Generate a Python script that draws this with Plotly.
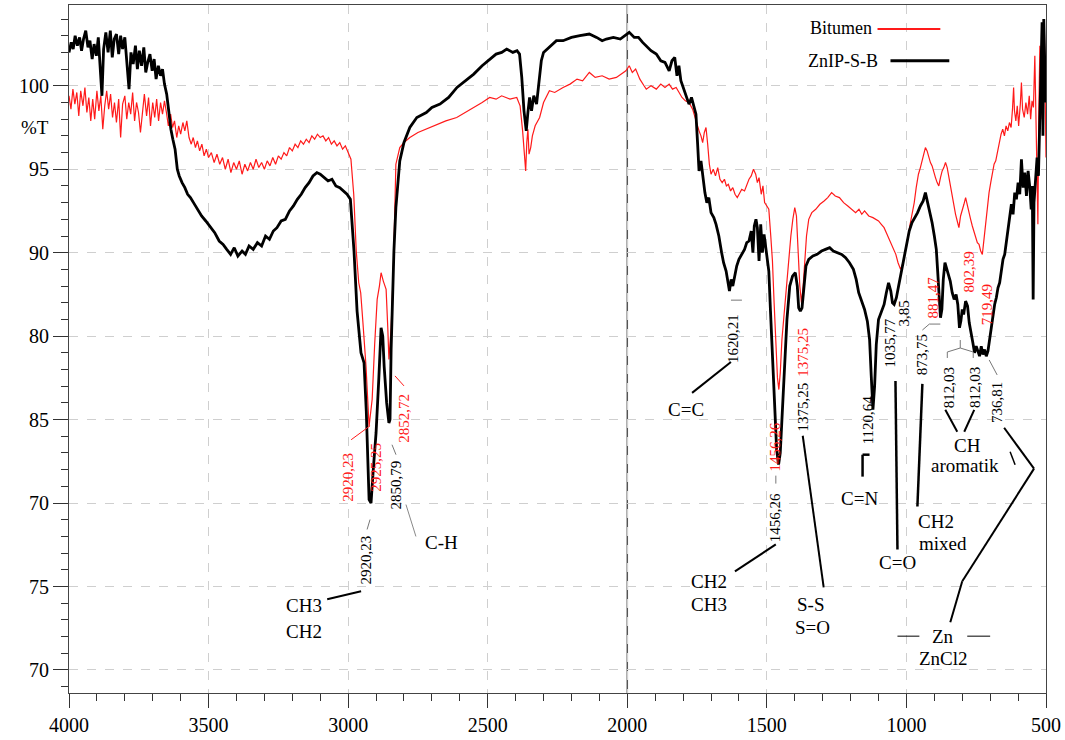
import plotly.graph_objects as go

# ---------------- data ----------------
black_wn = [4000,3992,3985,3978,3970,3962,3955,3948,3940,3932,3925,3917,3910,3902,3895,3888,3882,3876,3868,3860,
            3852,3845,3838,3830,3822,3815,3808,3800,3792,3785,3778,3770,3762,3755,3748,3740,3732,3725,3718,3710,
            3702,3695,3688,3680,3672,3665,3658,3650,3642,3635,3628,3620,3612,3605,3595,3585,3575,3565,3554,3540,
            3525,3510,3493,3478,3462,3448,3435,3421,3408,3395,3380,3368,3355,3340,3325,3310,3296,3282,3268,3255,
            3240,3225,3210,3196,3182,3168,3154,3140,3126,3112,3100,3086,3072,3058,3044,3030,3016,3004,2992,2985,
            2979,2968,2954,2943,2935,2925,2918,2910,2900,2890,2882,2876,2871,2862,2854,2850,2846,2836,2829,2815,
            2800,2779,2754,2720,2700,2671,2640,2610,2580,2550,2520,2493,2470,2450,2432,2410,2395,2386,2378,2370,
            2362,2356,2350,2343,2335,2325,2316,2308,2300,2280,2254,2230,2200,2170,2136,2110,2090,2075,2050,2025,
            2010,1993,1975,1960,1945,1932,1915,1896,1880,1865,1850,1840,1830,1822,1815,1808,1800,1790,1779,1770,
            1762,1754,1748,1743,1736,1730,1722,1715,1708,1700,1690,1682,1672,1662,1655,1646,1640,1634,1628,1622,
            1615,1608,1600,1590,1580,1572,1564,1556,1550,1545,1539,1534,1528,1522,1516,1510,1504,1498,1493,1487,
            1480,1472,1465,1458,1452,1446,1438,1428,1418,1408,1398,1391,1386,1380,1374,1368,1360,1350,1335,1320,
            1304,1290,1275,1262,1248,1232,1218,1204,1190,1180,1171,1160,1150,1140,1132,1126,1120,1114,1108,1100,
            1090,1080,1072,1064,1056,1050,1044,1036,1028,1018,1008,998,990,980,970,960,950,940,932,924,
            916,908,900,893,887,882,878,873,868,862,856,850,843,836,829,822,816,810,805,800,
            795,788,781,775,768,762,756,750,744,738,732,726,720,714,708,702,696,690,684,678,
            672,666,660,654,648,642,636,630,624,618,612,606,600,594,588,582,576,570,564,558,
            553,549,546,543,538,532,527,522,518,514,511,508,504,500]
black_t = [102.0,102.6,102.2,103.0,102.4,102.9,102.1,102.8,103.3,102.3,102.7,101.6,102.5,101.8,102.9,101.3,99.4,102.2,103.2,102.0,
           103.3,101.7,102.8,103.1,101.9,103.0,102.2,102.9,101.0,99.8,102.0,101.3,102.4,101.0,102.1,101.2,102.3,100.8,101.4,101.9,
           100.9,101.6,100.4,101.2,100.6,101.0,100.1,99.5,98.4,97.4,96.8,96.2,95.0,94.6,94.2,93.9,93.5,93.3,93.0,92.6,
           92.2,91.9,91.5,91.2,90.7,90.5,90.2,89.9,90.3,89.8,90.1,89.9,90.4,90.2,90.6,90.4,91.0,90.8,91.3,91.5,
           91.9,92.0,92.5,92.8,93.2,93.5,93.9,94.2,94.6,94.8,94.7,94.5,94.3,94.4,94.0,93.9,93.7,93.5,93.2,91.5,
           90.1,86.5,84.0,83.4,80.5,75.2,75.0,77.0,79.2,82.5,85.5,85.0,83.2,81.0,79.8,80.0,84.2,90.1,92.7,95.5,
           96.6,97.5,98.1,98.4,98.7,98.9,99.3,99.9,100.3,100.7,101.2,101.6,101.9,102.0,102.2,102.0,102.1,101.9,100.5,98.5,
           97.3,98.4,99.3,98.5,99.4,98.9,100.3,101.5,102.0,102.3,102.7,102.7,102.9,103.0,103.1,102.9,102.7,102.8,102.9,102.8,
           103.0,103.2,102.9,102.9,102.6,102.4,102.1,101.9,101.5,101.4,100.9,101.5,101.7,100.6,101.2,100.3,99.9,99.5,98.9,99.3,
           98.8,98.3,96.5,94.9,95.5,94.6,93.6,93.0,93.3,92.4,92.1,91.7,91.0,90.0,89.4,88.9,88.3,87.7,88.4,88.0,
           88.6,89.2,89.6,89.9,90.2,90.6,90.7,91.3,90.0,91.6,92.0,91.5,89.5,91.7,90.0,91.1,90.4,89.8,88.9,86.5,
           84.0,80.5,78.2,77.3,78.0,80.0,83.0,86.0,88.0,88.6,88.8,88.0,86.7,86.5,86.7,87.8,89.2,89.6,89.8,89.9,
           90.1,90.2,90.3,90.1,90.0,89.9,89.7,89.4,89.0,88.4,87.6,87.0,86.6,85.9,84.8,82.6,80.6,82.0,84.5,86.0,
           86.4,86.9,87.6,88.2,87.7,87.0,86.9,87.3,88.0,88.9,89.8,90.8,91.3,91.8,92.1,92.4,92.8,93.1,93.6,93.0,
           92.6,91.8,91.0,90.2,88.6,86.8,86.1,86.6,88.4,89.4,89.0,88.6,88.3,87.6,87.2,87.5,86.9,85.5,85.9,86.6,
           86.3,87.1,86.8,85.8,85.0,84.6,84.0,84.4,84.1,83.8,84.4,83.9,84.2,83.8,84.1,84.8,85.6,86.0,86.9,87.3,
           87.9,88.2,88.8,89.6,89.9,90.6,91.2,91.9,92.9,92.3,93.6,93.2,94.2,93.5,95.6,93.9,94.8,93.4,94.9,93.9,
           92.6,94.0,87.2,93.0,94.5,95.7,94.6,98.0,102.5,103.8,97.0,104.0,101.0,99.0]

red_wn = [4000,3993,3986,3979,3972,3965,3958,3950,3943,3936,3929,3922,3915,3908,3900,3893,3886,3879,3872,3865,
          3858,3851,3844,3837,3830,3822,3815,3808,3800,3793,3786,3779,3772,3765,3758,3751,3744,3737,3730,3722,
          3715,3708,3700,3693,3686,3679,3672,3665,3658,3651,3644,3636,3629,3622,3614,3607,3600,3592,3585,3578,
          3570,3562,3555,3547,3540,3532,3524,3516,3508,3500,3490,3480,3470,3460,3450,3440,3430,3420,3410,3400,
          3390,3380,3370,3360,3350,3340,3330,3320,3310,3300,3290,3280,3270,3260,3250,3240,3230,3220,3210,3200,
          3190,3180,3170,3160,3150,3140,3130,3120,3110,3100,3090,3080,3070,3060,3050,3040,3030,3020,3010,3000,
          2990,2980,2971,2962,2955,2947,2936,2925,2914,2905,2896,2888,2882,2874,2864,2858,2854,2846,2838,2829,
          2815,2800,2779,2750,2707,2680,2650,2611,2580,2550,2520,2493,2470,2450,2420,2396,2384,2375,2368,2364,
          2360,2356,2352,2346,2340,2330,2314,2300,2279,2260,2230,2205,2180,2160,2136,2115,2090,2065,2039,2020,
          2005,1993,1982,1970,1955,1940,1932,1915,1896,1880,1865,1850,1838,1825,1814,1804,1792,1779,1766,1754,
          1748,1743,1736,1730,1724,1718,1712,1706,1700,1692,1684,1676,1668,1660,1652,1645,1638,1630,1622,1614,
          1606,1598,1590,1580,1572,1564,1556,1548,1540,1534,1528,1520,1514,1508,1500,1493,1486,1480,1474,1468,
          1462,1457,1452,1446,1440,1434,1428,1421,1414,1407,1400,1394,1388,1382,1376,1370,1364,1358,1350,1339,
          1325,1310,1295,1282,1268,1255,1240,1225,1210,1196,1182,1170,1160,1150,1135,1120,1110,1100,1090,1080,
          1072,1064,1055,1046,1038,1030,1021,1012,1004,996,988,980,972,965,957,950,944,938,932,926,
          920,914,908,902,896,890,884,878,872,866,860,854,848,842,836,830,824,818,812,806,
          800,794,788,782,776,770,764,758,752,746,740,734,728,722,716,710,704,698,692,686,
          680,674,668,661,655,649,643,637,631,625,620,616,613,608,603,598,592,588,584,578,
          572,566,560,555,550,545,540,536,532,529,526,522,518,514,510,506,503,500]
red_t = [99.4,98.6,99.8,98.9,99.6,98.2,99.7,98.8,99.9,98.4,99.3,97.9,99.2,98.0,99.7,98.5,99.4,97.4,98.8,99.7,
         98.6,99.5,98.1,99.0,97.8,99.2,96.9,98.9,99.4,98.0,99.0,98.3,99.6,97.9,99.0,98.4,97.2,98.6,99.5,98.2,
         99.3,97.6,99.0,98.1,99.2,97.9,99.0,98.3,99.1,98.4,97.6,98.3,97.5,97.9,96.9,97.6,97.1,97.8,97.3,97.9,
         96.9,96.5,96.9,96.3,96.7,96.1,96.5,95.8,96.2,95.7,96.0,95.4,95.9,95.3,95.7,95.0,95.6,94.8,95.4,95.0,
         95.5,94.7,95.3,94.9,95.4,95.0,95.6,95.1,95.4,95.0,95.5,95.2,95.7,95.3,95.8,95.6,96.0,95.8,96.3,96.1,
         96.5,96.3,96.7,96.5,96.8,96.6,97.0,96.8,97.1,96.9,97.0,96.7,96.9,96.5,96.7,96.4,96.6,96.2,96.4,96.0,
         95.6,93.5,90.1,88.2,87.6,85.8,83.2,79.6,81.2,84.5,87.2,88.0,88.8,88.3,87.8,85.5,83.6,85.5,89.0,95.3,
         96.3,96.6,96.9,97.2,97.5,97.7,97.9,98.1,98.4,98.7,99.0,99.3,99.2,99.4,99.2,99.3,98.8,97.3,96.0,94.9,
         96.6,97.4,95.9,96.3,97.0,97.6,98.1,99.0,99.7,99.6,99.9,100.1,100.4,100.3,100.8,100.5,100.6,100.4,100.5,100.7,
         100.9,101.2,100.8,101.0,100.4,100.0,99.8,100.0,99.8,100.1,99.9,100.1,99.8,99.9,99.6,99.3,99.1,99.0,98.6,97.9,
         97.5,97.3,97.0,96.6,97.2,97.5,96.5,95.3,94.7,95.0,94.6,95.1,94.4,94.2,94.4,94.0,94.1,93.7,93.9,93.5,
         93.3,93.6,93.8,93.7,94.1,94.4,94.6,95.0,94.7,94.2,94.5,93.5,94.0,93.0,92.8,92.6,91.0,89.5,87.0,85.1,
         82.5,81.8,82.8,84.8,86.0,87.5,88.5,89.7,91.0,92.0,92.7,92.2,90.0,88.0,87.0,88.0,89.5,91.0,92.0,92.4,
         92.6,92.9,93.1,93.3,93.6,93.4,93.3,93.0,92.8,92.6,92.4,92.6,92.3,92.5,92.2,92.1,92.0,91.9,91.7,91.5,
         91.2,90.9,90.6,90.2,89.9,89.4,89.0,89.4,90.0,90.8,91.6,92.2,93.0,93.9,94.7,95.1,95.5,95.9,96.3,96.1,
         95.7,95.4,95.2,94.8,94.5,94.2,94.0,94.5,94.9,95.1,95.4,95.1,94.5,93.9,93.3,92.7,92.3,91.9,91.5,92.2,
         92.5,92.9,93.3,92.8,92.3,92.0,91.6,91.3,91.0,90.6,90.5,90.1,89.9,90.8,91.8,92.9,93.6,94.2,94.8,95.3,
         95.5,96.0,96.6,97.1,97.4,97.0,97.6,97.3,97.8,97.5,98.6,99.9,98.5,97.9,98.8,97.6,98.9,100.2,98.6,98.1,
         99.0,98.3,99.4,98.0,99.1,98.7,101.8,98.5,93.2,91.7,98.0,102.4,99.5,98.0,101.0,103.5,99.5,95.7]

series_names = ["Bitumen", "ZnIP-S-B"]
y_tick_values = [100, 95, 90, 85, 80, 75, 70, 65]
y_tick_labels = ["100", "95", "90", "80", "85", "70", "75", "70"]
x_tick_values = [4000, 3500, 3000, 2500, 2000, 1500, 1000, 500]

RED = "#ff1a1a"
BLACK = "#000000"
SERIF = "Liberation Serif, Times New Roman, serif"

# plot frame in pixels (for placing labels / leader lines)
L, R, T, B = 69, 1049, 4, 694
def px(x):
    return (x - L) / (R - L)
def py(y):
    return (B - y) / (B - T)

fig = go.Figure()
fig.add_trace(go.Scatter(x=red_wn, y=red_t, mode="lines", name=series_names[0],
                         line=dict(color=RED, width=1.2), showlegend=False))
fig.add_trace(go.Scatter(x=black_wn, y=black_t, mode="lines", name=series_names[1],
                         line=dict(color=BLACK, width=2.8), showlegend=False))

annotations = []
def text(t, x, y, color=BLACK, size=19, angle=0):
    annotations.append(dict(text=t, x=px(x), y=py(y), xref="paper", yref="paper",
                            showarrow=False, textangle=angle,
                            font=dict(family=SERIF, size=size, color=color),
                            xanchor="center", yanchor="middle"))

# peak numbers (rotated)
for t, x, y in [("2920,23", 348, 478), ("2925,25", 377, 468), ("2852,72", 405, 418),
                ("1456,26", 777, 447), ("1375,25", 805, 352), ("881,47", 936, 297),
                ("802,39", 972, 272), ("719,49", 990, 305)]:
    text(t, x, y, RED, 15, -90)
for t, x, y in [("2920,23", 367, 561), ("2850,79", 397, 485), ("1620,21", 735, 338),
                ("1456,26", 777, 518), ("1375,25", 805, 407), ("1120,64", 870, 420),
                ("1035,77", 893, 343), ("3,85", 907, 313), ("873,75", 925, 355),
                ("812,03", 952, 388), ("812,03", 978, 388), ("736,81", 1000, 403)]:
    text(t, x, y, BLACK, 15, -90)

# group labels
for t, x, y in [("C-H", 443, 543), ("CH3", 305, 606), ("CH2", 305, 632),
                ("C=C", 688, 410), ("CH2", 711, 582), ("CH3", 711, 605),
                ("S-S", 813, 605), ("S=O", 815, 628), ("C=N", 862, 499),
                ("C=O", 900, 563), ("CH2", 939, 522), ("mixed", 946, 544),
                ("CH", 970, 446), ("aromatik", 968, 466), ("Zn", 946, 637),
                ("ZnCl2", 946, 659), ("%T", 35, 127)]:
    text(t, x, y, BLACK, 19, 0)

# legend (text followed by line sample)
annotations.append(dict(text="Bitumen", x=px(876), y=py(27), xref="paper", yref="paper",
                        showarrow=False, xanchor="right", yanchor="middle",
                        font=dict(family=SERIF, size=18, color=BLACK)))
annotations.append(dict(text="ZnIP-S-B", x=px(882), y=py(60), xref="paper", yref="paper",
                        showarrow=False, xanchor="right", yanchor="middle",
                        font=dict(family=SERIF, size=18, color=BLACK)))

shapes = []
def seg(pts, color=BLACK, width=1.5):
    for (x0, y0), (x1, y1) in zip(pts[:-1], pts[1:]):
        shapes.append(dict(type="line", xref="paper", yref="paper",
                           x0=px(x0), y0=py(y0), x1=px(x1), y1=py(y1),
                           line=dict(color=color, width=width)))

seg([(880, 28), (943, 28)], RED, 2)
seg([(893, 60), (952, 60)], BLACK, 3)
# leader lines
seg([(328, 600), (362, 592)], BLACK, 2)
seg([(368, 530), (371, 520)], "#777", 1)
seg([(407, 505), (417, 537)], "#888", 1)
seg([(397, 455), (393, 445)], "#777", 1)
seg([(352, 440), (371, 426)], RED, 1)
seg([(405, 386), (396, 376)], RED, 1)
seg([(694, 393), (733, 362)], BLACK, 2)
seg([(733, 300), (744, 300)], "#777", 1)
seg([(737, 572), (778, 545)], BLACK, 2)
seg([(778, 484), (778, 476)], "#777", 1)
seg([(805, 436), (826, 588)], BLACK, 2)
seg([(865, 477), (865, 455), (872, 455)], BLACK, 2.5)
seg([(898, 381), (900, 550)], BLACK, 2.5)
seg([(925, 384), (920, 507)], BLACK, 2.5)
seg([(925, 330), (932, 324), (943, 324)], "#777", 1)
seg([(948, 410), (960, 432)], BLACK, 2)
seg([(977, 410), (967, 432)], BLACK, 2)
seg([(950, 358), (950, 352), (963, 348), (976, 352), (976, 358)], "#777", 1)
seg([(963, 348), (963, 340)], "#777", 1)
seg([(1000, 375), (992, 360)], "#777", 1)
seg([(1007, 428), (1037, 469), (965, 582), (953, 623)], BLACK, 2)
seg([(1013, 452), (1018, 465)], BLACK, 1.5)
seg([(900, 637), (922, 637)], BLACK, 1)
seg([(970, 637), (993, 637)], BLACK, 1)

# solid line at 2000 cm-1
shapes.append(dict(type="line", xref="x", yref="paper", x0=2000, x1=2000, y0=0, y1=1,
                   line=dict(color="#555", width=1.5), layer="below"))

fig.update_layout(
    width=1065, height=740,
    margin=dict(l=L, r=1065 - R, t=T, b=740 - B),
    paper_bgcolor="white", plot_bgcolor="white",
    annotations=annotations, shapes=shapes,
    font=dict(family=SERIF, color=BLACK),
    xaxis=dict(range=[4000, 500], tickvals=x_tick_values,
               ticks="outside", ticklen=14, tickwidth=1, tickcolor="#333",
               tickfont=dict(family=SERIF, size=20, color=BLACK),
               showline=True, linecolor="#444", linewidth=1, mirror=True,
               showgrid=True, gridcolor="#cfcfcf", griddash="dash", gridwidth=1,
               zeroline=False,
               minor=dict(tickmode="linear", tick0=0, dtick=100, ticks="outside",
                          ticklen=7, tickcolor="#333", showgrid=False)),
    yaxis=dict(range=[63.62, 104.84], tickvals=y_tick_values, ticktext=y_tick_labels,
               ticks="outside", ticklen=15, tickwidth=1, tickcolor="#333",
               tickfont=dict(family=SERIF, size=20, color=BLACK),
               showline=True, linecolor="#444", linewidth=1, mirror=True,
               showgrid=True, gridcolor="#cfcfcf", griddash="dash", gridwidth=1,
               zeroline=False,
               minor=dict(tickmode="linear", tick0=0, dtick=1, ticks="outside",
                          ticklen=7, tickcolor="#333", showgrid=False)),
)

fig.write_html("out.html")
